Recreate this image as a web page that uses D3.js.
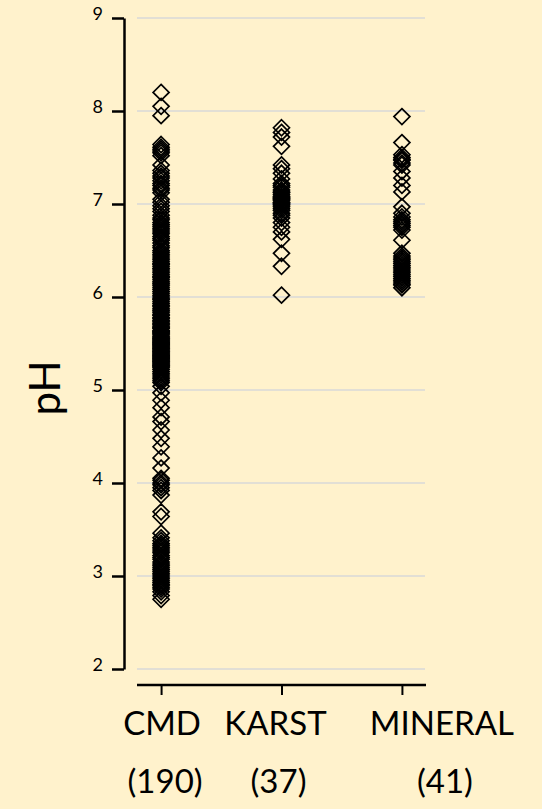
<!DOCTYPE html>
<html>
<head>
<meta charset="utf-8">
<script src="https://cdn.jsdelivr.net/npm/d3@7"></script>
<style>
  html, body { margin: 0; padding: 0; background: #FFF2CC; }
  svg { display: block; }
</style>
</head>
<body>
<div id="chart"></div>
<script>
// Categories and sample counts
const categories = ["CMD", "KARST", "MINERAL"];
const counts = [190, 37, 41];
const yTicks = [2, 3, 4, 5, 6, 7, 8, 9];

// pH values
const cmdPH = [
  8.20, 8.05, 7.95,
  7.64, 7.61, 7.59, 7.57, 7.55, 7.52, 7.42,
  7.36, 7.33, 7.30, 7.28, 7.25, 7.22, 7.20, 7.17, 7.15, 7.12,
  7.05, 7.02, 6.98, 6.95, 6.92, 6.88, 6.85, 6.83, 6.80, 6.78, 6.76, 6.74, 6.72, 6.70,
  6.68, 6.65, 6.63, 6.61, 6.58, 6.55, 6.53, 6.50, 6.48, 6.46,
  6.44, 6.42, 6.40, 6.38, 6.36, 6.35, 6.33, 6.31, 6.30, 6.28,
  6.26, 6.24, 6.22, 6.21, 6.19, 6.17, 6.15, 6.14, 6.12, 6.10,
  6.08, 6.06, 6.04, 6.02, 6.00, 5.98, 5.97, 5.95, 5.93, 5.91,
  5.90, 5.88, 5.86, 5.85, 5.83, 5.81, 5.80, 5.78, 5.77, 5.75,
  5.74, 5.72, 5.71, 5.70, 5.68, 5.67, 5.66, 5.64, 5.63, 5.62,
  5.61, 5.60, 5.58, 5.57, 5.56, 5.55, 5.54, 5.53, 5.52, 5.51,
  5.50, 5.49, 5.48, 5.47, 5.46, 5.45, 5.44, 5.43, 5.42, 5.41,
  5.40, 5.39, 5.38, 5.37, 5.36, 5.35, 5.34, 5.33, 5.32, 5.31,
  5.30, 5.29, 5.28, 5.27, 5.26, 5.25, 5.24,
  5.22, 5.20, 5.18, 5.16, 5.14, 5.12, 5.10, 5.08,
  5.04, 4.97, 4.89, 4.81, 4.71, 4.66, 4.57, 4.48, 4.39, 4.27, 4.16, 4.05,
  4.03, 4.00, 3.98, 3.95, 3.92, 3.87,
  3.69, 3.64, 3.46,
  3.41, 3.38, 3.35, 3.33, 3.31, 3.29, 3.27, 3.25, 3.22, 3.20,
  3.18, 3.15, 3.13, 3.11, 3.09, 3.07, 3.05, 3.03, 3.01, 2.99,
  2.97, 2.95, 2.93, 2.91, 2.90, 2.88, 2.86,
  2.83, 2.79, 2.75
];

const karstPH = [
  7.82, 7.77, 7.72, 7.62, 7.42, 7.38, 7.33, 7.27, 7.22, 7.20,
  7.18, 7.15, 7.13, 7.12, 7.10, 7.08, 7.07, 7.06, 7.05, 7.04,
  7.02, 7.01, 7.00, 6.99, 6.97, 6.95, 6.93, 6.90, 6.88, 6.85,
  6.80, 6.75, 6.70, 6.62, 6.47, 6.33, 6.02
];

const mineralPH = [
  7.94, 7.66, 7.53, 7.50, 7.48, 7.47, 7.44, 7.42, 7.35, 7.28,
  7.20, 7.13, 6.97, 6.90, 6.86, 6.83, 6.81, 6.79, 6.77, 6.75,
  6.72, 6.61, 6.47, 6.44, 6.42, 6.40, 6.38, 6.36, 6.34, 6.32,
  6.30, 6.28, 6.26, 6.24, 6.22, 6.20, 6.18, 6.16, 6.14, 6.13,
  6.10
];

const series = [cmdPH, karstPH, mineralPH];

// layout
const width = 542, height = 809;
const font = "Lato, 'Open Sans', sans-serif";
const labelNudge = [1, -6, 40];

const svg = d3.select("#chart").append("svg")
  .attr("width", width)
  .attr("height", height);

svg.append("rect").attr("width", width).attr("height", height).attr("fill", "#FFF2CC");

const y = d3.scaleLinear().domain([2, 9]).range([669, 18]);
const x = d3.scalePoint().domain(categories).range([137, 426]).padding(0.2);

// gridlines
svg.append("g")
  .selectAll("line")
  .data(yTicks)
  .join("line")
  .attr("x1", 137)
  .attr("x2", 425)
  .attr("y1", d => y(d))
  .attr("y2", d => y(d))
  .attr("stroke", "#D9D9D9")
  .attr("stroke-width", 1.5);

// y axis
const yAxis = svg.append("g")
  .attr("transform", "translate(124,0)")
  .call(d3.axisLeft(y).tickValues(yTicks).tickSize(12).tickSizeOuter(0).tickPadding(9).tickFormat(d3.format("d")));
yAxis.select(".domain").attr("stroke-width", 2.5);
yAxis.selectAll(".tick line").attr("stroke-width", 2.5);
yAxis.selectAll(".tick text")
  .attr("font-family", font)
  .attr("font-size", 18)
  .attr("dy", "0.1em")
  .attr("fill", "#000");

// x axis
const xAxis = svg.append("g")
  .attr("transform", "translate(0,685)")
  .call(d3.axisBottom(x).tickSize(10).tickSizeOuter(0).tickFormat(""));
xAxis.select(".domain").attr("stroke-width", 2.5).attr("d", "M137,0H426");
xAxis.selectAll(".tick line").attr("stroke-width", 2);

// category labels
const labels = svg.append("g")
  .attr("font-family", font)
  .attr("font-size", 33)
  .attr("text-anchor", "middle")
  .attr("fill", "#000");

labels.selectAll("text.name")
  .data(categories)
  .join("text")
  .attr("class", "name")
  .attr("x", (d, i) => x(d) + labelNudge[i])
  .attr("y", 735)
  .text(d => d);

labels.selectAll("text.count")
  .data(counts)
  .join("text")
  .attr("class", "count")
  .attr("x", (d, i) => x(categories[i]) + labelNudge[i] + 3)
  .attr("y", 793)
  .text(d => `(${d})`);

// y title
svg.append("text")
  .attr("transform", "translate(60,388) rotate(-90)")
  .attr("text-anchor", "middle")
  .attr("font-family", font)
  .attr("font-size", 42)
  .text("pH");

// square diamond marker
const diamond = {
  draw(ctx, size) {
    const r = Math.sqrt(size) / 2;
    ctx.moveTo(0, -r);
    ctx.lineTo(r, 0);
    ctx.lineTo(0, r);
    ctx.lineTo(-r, 0);
    ctx.closePath();
  }
};

const points = series.flatMap((vals, i) => vals.map(v => ({ cat: categories[i], v })));

svg.append("g")
  .selectAll("path")
  .data(points)
  .join("path")
  .attr("transform", d => `translate(${x(d.cat)},${y(d.v)})`)
  .attr("d", d3.symbol(diamond, 256))
  .attr("fill", "none")
  .attr("stroke", "#000")
  .attr("stroke-width", 1.7);
</script>
</body>
</html>
